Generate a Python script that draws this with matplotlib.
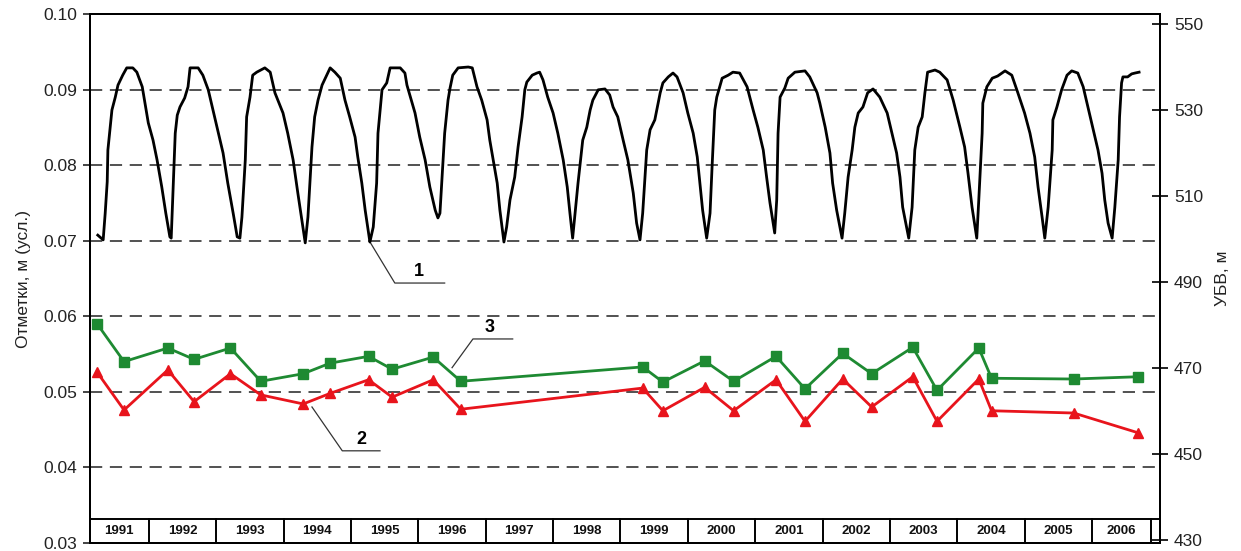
import numpy as np
import matplotlib.pyplot as plt

plt.rcParams['font.family'] = ['Liberation Sans', 'DejaVu Sans']

# curve 1: reservoir level (УБВ, m), time in decimal years
wl_t = [1991.24, 1991.32, 1991.35, 1991.38, 1991.39, 1991.45, 1991.50, 1991.54, 1991.61, 1991.67,
        1991.76, 1991.82, 1991.90, 1991.94, 1991.99, 1992.06, 1992.12, 1992.19, 1992.25, 1992.31,
        1992.33, 1992.36, 1992.39, 1992.42, 1992.46, 1992.53, 1992.58, 1992.61, 1992.73, 1992.80,
        1992.88, 1992.95, 1993.02, 1993.10, 1993.17, 1993.25, 1993.31, 1993.35,
        1993.38, 1993.43, 1993.45, 1993.50, 1993.54, 1993.60, 1993.72, 1993.80, 1993.87, 1993.99,
        1994.06, 1994.14, 1994.21, 1994.27, 1994.32,
        1994.36, 1994.42, 1994.46, 1994.51, 1994.57, 1994.64, 1994.69, 1994.76, 1994.84, 1994.91,
        1994.98, 1995.06, 1995.10, 1995.16, 1995.21, 1995.28,
        1995.33, 1995.38, 1995.40, 1995.46, 1995.53, 1995.58, 1995.73, 1995.80, 1995.83, 1995.95,
        1996.02, 1996.10, 1996.17, 1996.25, 1996.29,
        1996.32, 1996.36, 1996.39, 1996.44, 1996.47, 1996.51, 1996.59, 1996.74, 1996.80, 1996.87,
        1996.94, 1997.02, 1997.06, 1997.11, 1997.17, 1997.21, 1997.27,
        1997.31, 1997.36, 1997.43, 1997.48, 1997.54, 1997.58, 1997.61, 1997.69, 1997.76, 1997.80,
        1997.85, 1997.92, 1998.00, 1998.07, 1998.15, 1998.21, 1998.25, 1998.29,
        1998.32, 1998.37, 1998.44, 1998.50, 1998.55, 1998.59, 1998.67, 1998.77, 1998.84, 1998.89,
        1998.96, 1999.04, 1999.11, 1999.19, 1999.24, 1999.29,
        1999.33, 1999.39, 1999.44, 1999.51, 1999.59, 1999.63, 1999.71, 1999.78, 1999.84, 1999.93,
        2000.00, 2000.08, 2000.14, 2000.18, 2000.22, 2000.28,
        2000.33, 2000.36, 2000.40, 2000.43, 2000.51, 2000.60, 2000.67, 2000.77, 2000.88, 2000.97,
        2001.04, 2001.12, 2001.17, 2001.22, 2001.29,
        2001.32, 2001.34, 2001.37, 2001.44, 2001.49, 2001.59, 2001.74, 2001.81, 2001.92, 2001.96,
        2002.04, 2002.11, 2002.15, 2002.21, 2002.29,
        2002.33, 2002.38, 2002.44, 2002.48, 2002.53, 2002.60, 2002.67, 2002.75, 2002.85, 2002.96,
        2003.03, 2003.10, 2003.15, 2003.19, 2003.28,
        2003.33, 2003.37, 2003.42, 2003.48, 2003.52, 2003.56, 2003.67, 2003.74, 2003.85, 2003.94,
        2004.04, 2004.11, 2004.16, 2004.22, 2004.29,
        2004.32, 2004.37, 2004.38, 2004.44, 2004.52, 2004.60, 2004.71, 2004.81, 2004.90, 2005.00,
        2005.08, 2005.15, 2005.20, 2005.26, 2005.30,
        2005.35, 2005.41, 2005.42, 2005.48, 2005.55, 2005.63, 2005.70, 2005.79, 2005.87, 2005.94,
        2006.01, 2006.09, 2006.15, 2006.19, 2006.24, 2006.30,
        2006.34, 2006.39, 2006.41, 2006.44, 2006.46, 2006.53, 2006.59, 2006.64, 2006.70]
wl_h = [500.9, 499.8, 506.0, 513.3, 520.7, 530.0, 533.0, 535.8, 538.1, 539.8,
        539.8, 538.8, 535.4, 531.6, 527.0, 523.0, 518.4, 512.1, 506.0, 500.5,
        500.2, 512.1, 524.6, 528.8, 530.7, 532.8, 535.4, 539.8, 539.8, 538.1,
        534.7, 530.0, 525.4, 520.0, 513.0, 506.0, 500.5, 500.2,
        505.1, 518.4, 528.4, 533.0, 538.1, 538.8, 539.8, 538.8, 534.0, 529.3,
        524.6, 518.4, 510.7, 504.4, 499.1,
        505.1, 521.4, 528.4, 532.3, 535.8, 538.1, 539.8, 538.8, 537.4, 532.3,
        528.4, 523.7, 519.1, 513.0, 506.7, 499.3,
        502.8, 513.0, 524.6, 534.7, 536.3, 539.8, 539.8, 538.6, 535.8, 529.3,
        523.7, 518.4, 512.1, 506.7, 504.9,
        506.0, 516.7, 524.6, 532.3, 535.1, 538.1, 539.8, 540.0, 539.8, 535.4,
        532.3, 527.7, 523.0, 518.4, 513.0, 506.7, 499.3,
        502.8, 509.1, 514.4, 521.4, 528.4, 534.7, 536.5, 538.1, 538.6, 538.8,
        537.0, 533.0, 529.3, 524.6, 518.4, 512.1, 506.0, 500.2,
        505.1, 513.0, 523.0, 526.0, 530.0, 532.3, 534.7, 534.9, 533.5, 530.7,
        528.4, 523.0, 518.4, 510.7, 503.7, 499.8,
        506.0, 520.7, 525.4, 527.7, 534.0, 536.3, 537.7, 538.6, 537.7, 534.0,
        529.3, 524.6, 519.1, 513.0, 506.7, 500.2,
        506.0, 516.7, 530.0, 533.0, 537.4, 538.1, 538.8, 538.6, 535.4, 530.0,
        526.0, 520.7, 514.4, 508.4, 501.4,
        509.1, 524.6, 533.0, 535.1, 537.4, 538.8, 539.1, 537.7, 534.0, 531.6,
        526.0, 520.0, 513.0, 506.7, 500.2,
        506.0, 514.4, 520.7, 526.0, 529.3, 530.7, 534.0, 534.9, 533.0, 529.3,
        524.6, 520.0, 514.4, 507.4, 500.2,
        507.4, 520.7, 526.0, 528.4, 534.0, 538.8, 539.3, 538.8, 537.0, 532.3,
        526.0, 521.4, 515.3, 507.4, 500.2,
        509.1, 524.6, 531.6, 535.4, 537.4, 537.9, 539.1, 538.1, 534.0, 529.3,
        524.6, 519.1, 512.1, 505.1, 500.2,
        507.4, 520.7, 527.7, 530.7, 534.7, 538.1, 539.1, 538.6, 535.4, 530.7,
        526.0, 520.7, 515.3, 509.1, 503.7, 500.2,
        507.4, 518.4, 528.4, 536.3, 537.7, 537.7, 538.4, 538.6, 538.8]

# curves 2 and 3: survey marks, m (conditional)
obs_t = [1991.23, 1991.63, 1992.28, 1992.67, 1993.21, 1993.66, 1994.29, 1994.69, 1995.26, 1995.61,
         1996.22, 1996.63, 1999.33, 1999.63, 2000.25, 2000.68, 2001.31, 2001.74, 2002.30, 2002.73,
         2003.34, 2003.70, 2004.32, 2004.51, 2005.73, 2006.68]
mark3 = [0.0590, 0.0540, 0.0558, 0.0543, 0.0558, 0.0514, 0.0524, 0.0538, 0.0547, 0.0530,
         0.0546, 0.0514, 0.0533, 0.0513, 0.0541, 0.0514, 0.0547, 0.0504, 0.0551, 0.0524,
         0.0559, 0.0502, 0.0558, 0.0518, 0.0517, 0.0520]
mark2 = [0.0526, 0.0476, 0.0529, 0.0487, 0.0524, 0.0496, 0.0484, 0.0498, 0.0516, 0.0493,
         0.0516, 0.0477, 0.0505, 0.0475, 0.0506, 0.0475, 0.0516, 0.0461, 0.0517, 0.0480,
         0.0520, 0.0461, 0.0517, 0.0475, 0.0472, 0.0446]

years = list(range(1991, 2007))
year_edges = [1991.12, 1992, 1993, 1994, 1995, 1996, 1997, 1998, 1999, 2000, 2001, 2002,
              2003, 2004, 2005, 2006, 2006.87]

fig = plt.figure(figsize=(12.41, 5.51), dpi=100)
ax = fig.add_axes([0.0725, 0.0145, 0.8622, 0.9601])
ax2 = ax.twinx()

ax.set_xlim(1991.124, 2007.01)
ax.set_ylim(0.03, 0.10)
ax2.set_ylim(429.3, 552.33)

ax.set_yticks(np.arange(0.03, 0.1001, 0.01))
ax.set_yticklabels(['%.2f' % v for v in np.arange(0.03, 0.1001, 0.01)])
ax2.set_yticks(np.arange(430, 551, 20))
ax.set_xticks([])

for v in np.arange(0.04, 0.0901, 0.01):
    ax.axhline(v, color='#222222', lw=1.1, ls=(0, (8, 5)), zorder=1)

for s in ['left', 'right', 'top', 'bottom']:
    ax.spines[s].set_linewidth(1.4)
    ax2.spines[s].set_linewidth(1.4)

ax.tick_params(axis='y', direction='out', length=5, width=1.2, labelsize=12.5, pad=4, colors='#222222')
ax2.tick_params(axis='y', direction='inout', length=12, width=1.4, labelsize=12.5, pad=4, colors='#222222')

ax.set_ylabel('Отметки, м (усл.)', fontsize=12.5, color='#222222', labelpad=9)
ax2.set_ylabel('УБВ, м', fontsize=12.5, color='#222222', labelpad=9)

# curve 1 on right axis
ax2.plot(wl_t, wl_h, color='black', lw=2.0, zorder=3, solid_joinstyle='round')

# curves 3 and 2 on left axis
ax.plot(obs_t, mark3, color='#1e8a32', lw=2.0, marker='s', ms=6.5, zorder=3)
ax.plot(obs_t, mark2, color='#e8141c', lw=2.0, marker='^', ms=7.5, zorder=3)

# year row at the bottom
tr = ax.get_xaxis_transform()
row_top = 0.045
ax.plot([year_edges[0], year_edges[-1] + 0.14], [row_top, row_top], color='black', lw=1.4,
        transform=tr, clip_on=False)
for e in year_edges + [year_edges[-1] + 0.14]:
    ax.plot([e, e], [0, row_top], color='black', lw=1.4, transform=tr)
for i, y in enumerate(years):
    xm = (year_edges[i] + year_edges[i + 1]) / 2
    ax.text(xm, row_top / 2, str(y), transform=tr, ha='center', va='center',
            fontsize=9.5, fontweight='bold', color='#111111')

# leader labels
lead = dict(color='#333333', lw=0.9)
# 1 - from a trough of the level curve (left-axis units)
ax.plot([1995.29, 1995.65, 1996.39], [0.0697, 0.0644, 0.0644], **lead)
ax.text(1996.01, 0.0648, '1', fontsize=13, fontweight='bold', ha='center', va='bottom')
# 3
ax.plot([1996.50, 1996.81, 1997.40], [0.0532, 0.0570, 0.0570], **lead)
ax.text(1997.06, 0.0574, '3', fontsize=13, fontweight='bold', ha='center', va='bottom')
# 2
ax.plot([1994.42, 1994.87, 1995.43], [0.0480, 0.0422, 0.0422], **lead)
ax.text(1995.16, 0.0426, '2', fontsize=13, fontweight='bold', ha='center', va='bottom')

fig.savefig('out.png', dpi=100)
